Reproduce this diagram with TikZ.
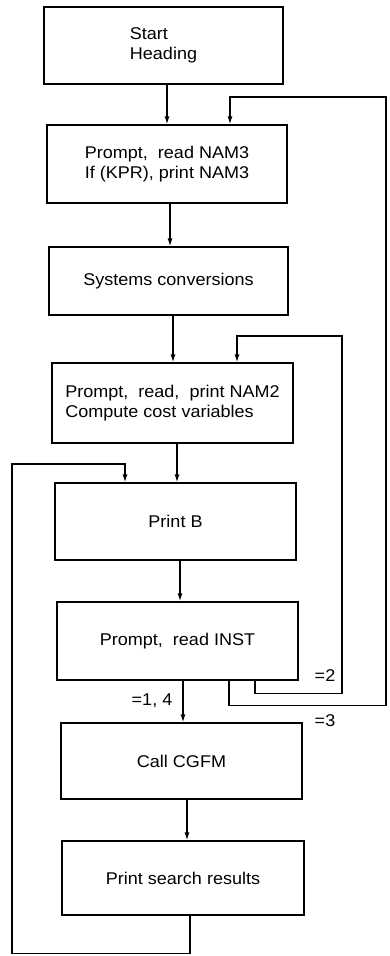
\documentclass[tikz,border=0pt]{standalone}
\usepackage{fontspec}
\setmainfont{Liberation Sans}[FakeStretch=1.06]
\usetikzlibrary{arrows.meta}
\begin{document}
\begin{tikzpicture}[x=1pt,y=-1pt, line width=1.3pt,
  box/.style={draw, rectangle, inner sep=0pt, align=left,
    font=\fontsize{17}{20}\selectfont},
  arr/.style={-{Latex[length=8pt,width=5pt]}},
  lab/.style={inner sep=0pt, font=\fontsize{17}{20}\selectfont}]
\useasboundingbox (0,0) rectangle (389,956);

\node[box, minimum width=239pt, minimum height=77pt] (b1) at (163.5,45.5) {Start\\Heading};
\node[box, minimum width=240pt, minimum height=78pt] (b2) at (167,164) {Prompt, \ read NAM3\\If (KPR), print NAM3};
\node[box, minimum width=239pt, minimum height=68pt] (b3) at (168.5,281) {Systems conversions};
\node[box, minimum width=241pt, minimum height=80pt] (b4) at (172.5,403) {Prompt, \ read, \ print NAM2\\Compute cost variables};
\node[box, minimum width=241pt, minimum height=77pt] (b5) at (175.5,521.5) {Print B};
\node[box, minimum width=241pt, minimum height=78pt] (b6) at (177.5,641) {Prompt, \ read INST};
\node[box, minimum width=241pt, minimum height=76pt] (b7) at (181.5,761) {Call CGFM};
\node[box, minimum width=242pt, minimum height=74pt] (b8) at (183,878) {Print search results};

\draw[arr] ([xshift=3.5pt]b1.south) -- ([xshift=3.5pt]b1.south |- b2.north);
\draw[arr] ([xshift=3pt]b2.south) -- ([xshift=3pt]b2.south |- b3.north);
\draw[arr] ([xshift=4.5pt]b3.south) -- ([xshift=4.5pt]b3.south |- b4.north);
\draw[arr] ([xshift=4.5pt]b4.south) -- ([xshift=4.5pt]b4.south |- b5.north);
\draw[arr] ([xshift=4.5pt]b5.south) -- ([xshift=4.5pt]b5.south |- b6.north);
\draw[arr] ([xshift=5.5pt]b6.south) -- ([xshift=5.5pt]b6.south |- b7.north);
\draw[arr] ([xshift=5.5pt]b7.south) -- ([xshift=5.5pt]b7.south |- b8.north);

% =2 loop back to NAM2 box
\draw[arr] ([xshift=77.5pt]b6.south) -- ++(0,13) -| (342,336) -| ([xshift=64.5pt]b4.north);
% =3 loop back to NAM3 box
\draw[arr] ([xshift=51.5pt]b6.south) -- ++(0,25) -| (386,97) -| ([xshift=63pt]b2.north);
% loop from search results back to Print B
\draw[arr] ([xshift=7pt]b8.south) -- ++(0,38) -| (12,464) -| ([xshift=-50.5pt]b5.north);

\node[lab] (l14) at (152,701) {=1, 4};
\node[lab] (l2) at (325,676) {=2};
\node[lab] (l3) at (325,721) {=3};
\end{tikzpicture}
\end{document}
